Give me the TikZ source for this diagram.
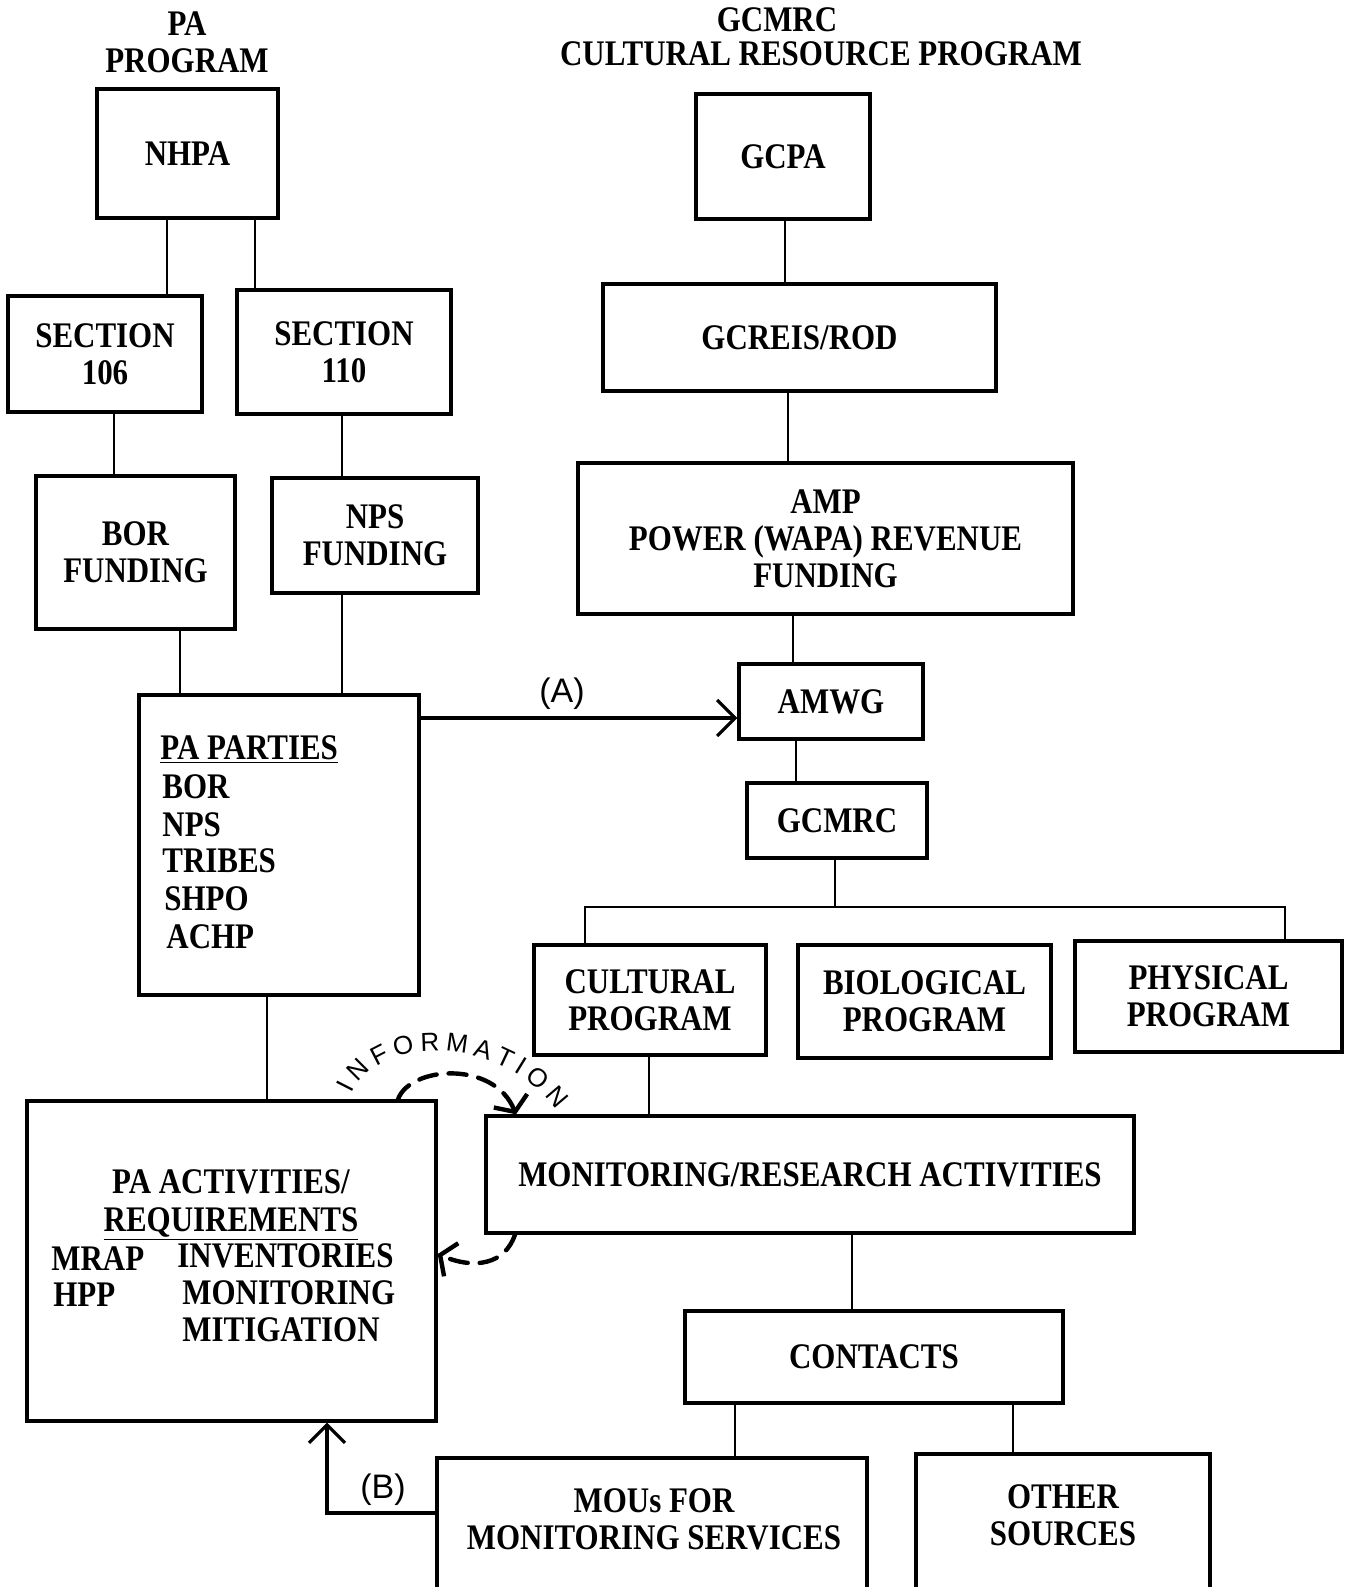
\documentclass[tikz,border=0pt]{standalone}
\usepackage{fontspec}
\setmainfont{Liberation Serif}[FakeStretch=0.86]
\newfontfamily\handfont{Liberation Sans}
\usetikzlibrary{arrows.meta,decorations.text}
\newcommand\mkbox[6]{\node[box, minimum width={(#4-#2)*0.5pt}, minimum height={(#5-#3)*0.5pt}] (#1) at ({(#2+#4)/2},{(#3+#5)/2}) {#6};}
\begin{document}
\begin{tikzpicture}[x=0.5pt,y=-0.5pt,
  box/.style={draw,line width=1.7pt,inner sep=0pt,align=center,font=\bfseries\fontsize{18}{18.5}\selectfont},
  txt/.style={inner sep=0pt,align=center,font=\bfseries\fontsize{18}{18.5}\selectfont},
  conn/.style={line width=1.2pt},
  hand/.style={line width=1.6pt},
  handdash/.style={line width=2.2pt,dash pattern=on 9pt off 6pt,line cap=round},
  handlbl/.style={inner sep=0pt,font=\handfont\fontsize{17}{17}\selectfont},
  openv/.tip={Straight Barb[length=9pt,width=18pt]}]
\useasboundingbox (0,0) rectangle (1350,1587);
\clip (0,0) rectangle (1350,1587);
\fill[white] (0,0) rectangle (1350,1587);
% titles
\node[txt] (t1) at (187,42) {PA\\PROGRAM};
\node[txt] (t2) at (777,20) {GCMRC};
\node[txt] (t3) at (821,54) {CULTURAL RESOURCE PROGRAM};
% boxes
\mkbox{nhpa}{97}{89}{278}{218}{NHPA}
\mkbox{gcpa}{696}{94}{870}{219}{GCPA}
\mkbox{sec106}{8}{296}{202}{412}{SECTION\\106}
\mkbox{sec110}{237}{290}{451}{414}{SECTION\\110}
\mkbox{gcreis}{603}{284}{996}{391}{GCREIS/ROD}
\mkbox{borf}{36}{476}{235}{629}{BOR\\FUNDING}
\mkbox{npsf}{272}{478}{478}{593}{NPS\\FUNDING}
\mkbox{amp}{578}{463}{1073}{614}{AMP\\POWER (WAPA) REVENUE\\FUNDING}
\mkbox{amwg}{739}{664}{923}{739}{AMWG}
\mkbox{parties}{139}{695}{419}{995}{}
\mkbox{gcmrc}{747}{783}{927}{858}{GCMRC}
\mkbox{cult}{534}{945}{766}{1055}{CULTURAL\\PROGRAM}
\mkbox{bio}{798}{945}{1051}{1058}{BIOLOGICAL\\PROGRAM}
\mkbox{phys}{1075}{941}{1342}{1052}{PHYSICAL\\PROGRAM}
\mkbox{paact}{27}{1101}{436}{1421}{}
\mkbox{monit}{486}{1116}{1134}{1233}{MONITORING/RESEARCH ACTIVITIES}
\mkbox{contacts}{685}{1311}{1063}{1403}{CONTACTS}
\mkbox{mous}{437}{1458}{867}{1620}{}
\mkbox{other}{916}{1454}{1210}{1620}{}
% texts inside boxes
\node[txt,anchor=base west] (pp0) at (160,759) {\underline{PA PARTIES}};
\node[txt,anchor=base west] (pp1) at (162,798) {BOR};
\node[txt,anchor=base west] (pp2) at (162,836) {NPS};
\node[txt,anchor=base west] (pp3) at (162,872) {TRIBES};
\node[txt,anchor=base west] (pp4) at (164,910) {SHPO};
\node[txt,anchor=base west] (pp5) at (166,948) {ACHP};
\node[txt,anchor=base] (pa0) at (231,1193) {PA ACTIVITIES/};
\node[txt,anchor=base] (pa1) at (231,1231) {\underline{REQUIREMENTS}};
\node[txt,anchor=base west] (pa2) at (51,1270) {MRAP};
\node[txt,anchor=base west] (pa3) at (177,1267) {INVENTORIES};
\node[txt,anchor=base west] (pa4) at (53,1306) {HPP};
\node[txt,anchor=base west] (pa5) at (182,1304) {MONITORING};
\node[txt,anchor=base west] (pa6) at (182,1341) {MITIGATION};
\node[txt] (moutxt) at (654,1519) {MOUs FOR\\MONITORING SERVICES};
\node[txt] (othertxt) at (1063,1515) {OTHER\\SOURCES};
% connector coordinates
\coordinate (c1) at (167,0);
\coordinate (c2) at (255,0);
\coordinate (c3) at (785,0);
\coordinate (c4) at (114,0);
\coordinate (c5) at (342,0);
\coordinate (c6) at (788,0);
\coordinate (c7) at (180,0);
\coordinate (c9) at (793,0);
\coordinate (c10) at (796,0);
\coordinate (c11) at (267,0);
\coordinate (c12) at (649,0);
\coordinate (c13) at (852,0);
\coordinate (c14) at (735,0);
\coordinate (c15) at (1013,0);
\coordinate (bus) at (835,907);
\coordinate (busL) at (585,907);
\coordinate (busR) at (1285,907);
% connectors
\draw[conn] (nhpa.south -| c1) -- (sec106.north -| c1);
\draw[conn] (nhpa.south -| c2) -- (sec110.north -| c2);
\draw[conn] (gcpa.south -| c3) -- (gcreis.north -| c3);
\draw[conn] (sec106.south -| c4) -- (borf.north -| c4);
\draw[conn] (sec110.south -| c5) -- (npsf.north -| c5);
\draw[conn] (gcreis.south -| c6) -- (amp.north -| c6);
\draw[conn] (borf.south -| c7) -- (parties.north -| c7);
\draw[conn] (npsf.south -| c5) -- (parties.north -| c5);
\draw[conn] (amp.south -| c9) -- (amwg.north -| c9);
\draw[conn] (amwg.south -| c10) -- (gcmrc.north -| c10);
\draw[conn] (gcmrc.south -| bus) -- (bus);
\draw[conn] (cult.north -| busL) -- (busL) -- (busR) -- (phys.north -| busR);
\draw[conn] (parties.south -| c11) -- (paact.north -| c11);
\draw[conn] (cult.south -| c12) -- (monit.north -| c12);
\draw[conn] (monit.south -| c13) -- (contacts.north -| c13);
\draw[conn] (contacts.south -| c14) -- (mous.north -| c14);
\draw[conn] (contacts.south -| c15) -- (other.north -| c15);
% arrow A
\coordinate (yA) at (0,718);
\draw[hand,-{openv}] (parties.east |- yA) -- (amwg.west |- yA);
\node[handlbl] (labA) at (562,694) {(A)};
% arrow B
\coordinate (yB) at (0,1513);
\coordinate (xB) at (327,0);
\draw[hand,-{openv}] (mous.west |- yB) -- (xB |- yB) -- (xB |- paact.south);
\node[handlbl] (labB) at (383,1490) {(B)};
% information arcs
\coordinate (xI1) at (398,0);
\coordinate (xI2) at (516,0);
\draw[handdash,-{Straight Barb[length=6pt,width=18pt]}] (paact.north -| xI1) .. controls (410,1066) and (494,1060) .. (monit.north -| xI2);
\path[decorate,decoration={text along path,text={|\handfont\fontsize{13}{13}\selectfont|INFORMATION},text align={fit to path}}] (352,1094) .. controls (378,1034) and (500,1034) .. (556,1110);
\coordinate (xI3) at (515,0);
\coordinate (yI4) at (0,1254);
\draw[handdash,-{Straight Barb[length=6pt,width=18pt]}] (monit.south -| xI3) .. controls (505,1264) and (475,1270) .. (paact.east |- yI4);
\end{tikzpicture}
\end{document}
